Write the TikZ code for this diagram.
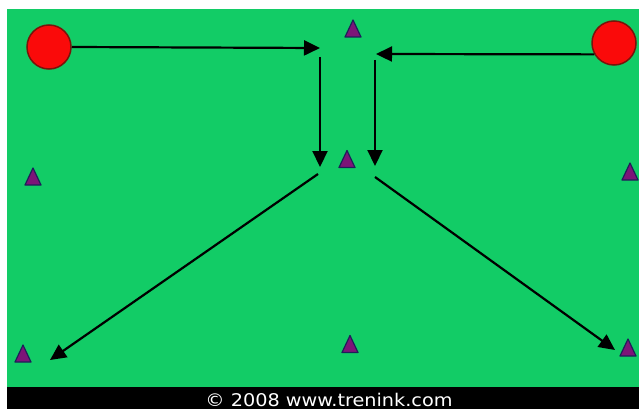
\documentclass[tikz,border=0pt]{standalone}
\usepackage{fontspec}
\usepackage{graphicx}
\newfontfamily\credfont{DejaVu Sans}
\usetikzlibrary{arrows.meta}
\definecolor{field}{RGB}{18,204,102}
\definecolor{ballred}{RGB}{250,10,10}
\definecolor{balledge}{RGB}{120,20,10}
\definecolor{conefill}{RGB}{125,20,120}
\definecolor{coneedge}{RGB}{30,30,90}
\tikzset{
  ball/.style={circle,fill=ballred,draw=balledge,line width=1.5pt,minimum size=44pt,inner sep=0pt},
  run/.style={line width=2.2pt,-{Triangle[length=16pt,width=15pt]}},
  cone/.pic={\filldraw[fill=conefill,draw=coneedge,line width=1.2pt,line join=round] (-8,8.5)--(0,-8.5)--(8,8.5)--cycle;}
}
\begin{document}
\begin{tikzpicture}[x=1pt,y=-1pt]
\useasboundingbox (0,0) rectangle (639,409);
\fill[white] (0,0) rectangle (639,409);
\fill[field] (7,9) rectangle (639,387);
\fill[black] (7,387) rectangle (639,409);
\node[ball] (lc) at (49,47) {};
\node[ball] (rc) at (614,43) {};
\coordinate (a1) at (320,48);
\coordinate (a2) at (376,54);
\coordinate (v1s) at (320,57);
\coordinate (v1e) at (320,167);
\coordinate (v2s) at (375,60);
\coordinate (v2e) at (375,166);
\coordinate (d1s) at (318,174);
\coordinate (d1e) at (50,360);
\coordinate (d2s) at (375,177);
\coordinate (d2e) at (615,350);
\draw[run] (lc.east) -- (a1);
\draw[run] (rc.210) -- (a2);
\draw[run] (v1s) -- (v1e);
\draw[run] (v2s) -- (v2e);
\draw[run] (d1s) -- (d1e);
\draw[run] (d2s) -- (d2e);
\pic at (353,28.5) {cone};
\pic at (347,159) {cone};
\pic at (33,176.5) {cone};
\pic at (630,171.5) {cone};
\pic at (23,353.5) {cone};
\pic at (350,344) {cone};
\pic at (628,347.5) {cone};
\node[text=white,font=\credfont\fontsize{17.5}{17.5}\selectfont,inner sep=0pt,anchor=base] (cr) at (329,406) {\scalebox{1.1}[1]{© 2008 www.trenink.com}};
\end{tikzpicture}
\end{document}
